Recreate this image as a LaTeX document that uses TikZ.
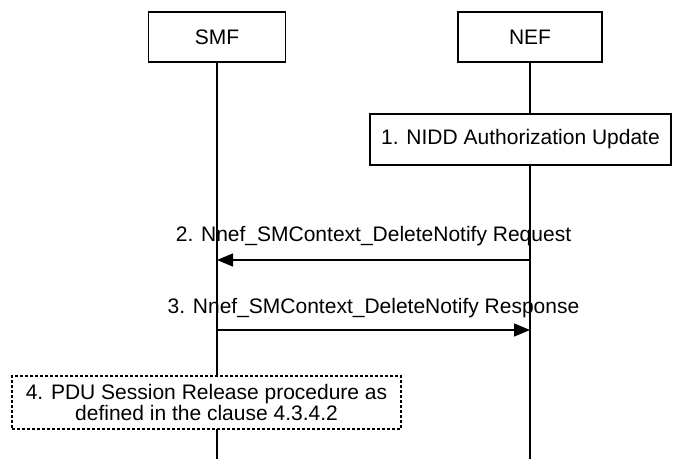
\documentclass[tikz,border=0pt]{standalone}
\usepackage{fontspec}
\setmainfont{Liberation Sans}
\usepackage{tikz}
\usetikzlibrary{arrows.meta,positioning}
\newcommand{\diagfont}{\fontsize{21}{21}\selectfont}
\tikzset{
  entitybox/.style={
    rectangle, draw=black, fill=white, line width=1.2pt,
    minimum width=#1, minimum height=50pt,
    font=\diagfont, inner sep=0pt
  },
  entitybox/.default=137pt,
  stepbox/.style={
    rectangle, draw=black, fill=white, line width=1.2pt,
    minimum width=301pt, minimum height=51pt,
    font=\diagfont, align=center, inner sep=0pt
  },
  procbox/.style={
    rectangle, draw=black, fill=white, line width=1.2pt,
    dash pattern=on 3pt off 2pt,
    minimum width=389pt, minimum height=53pt,
    font=\diagfont, align=center, inner sep=0pt
  },
  lifeline/.style={line width=1.2pt},
  msgarrow/.style={
    -{Triangle[length=16pt,width=13pt]}, line width=1.2pt
  },
  msglabel/.style={font=\diagfont, anchor=base, inner sep=0pt, yshift=19pt},
}

\begin{document}
\begin{tikzpicture}[x=1pt, y=-1pt]
  \useasboundingbox (0,0) rectangle (675,459);

  % Entities
  \node[entitybox=137pt] (smf) at (217,37) {SMF};
  \node[entitybox=144pt] (nef) at (530,37) {NEF};
  \coordinate (smf end) at (217,459);
  \coordinate (nef end) at (530,459);

  % Lifelines
  \draw[lifeline] (smf.south) -- (smf end);
  \draw[lifeline] (nef.south) -- (nef end);

  % Step 1
  \node[stepbox] (auth) at (520.5,139.5) {1. NIDD Authorization Update};

  % Messages
  \coordinate (req from) at (530,260);
  \coordinate (req to) at (217,260);
  \coordinate (rsp from) at (217,330);
  \coordinate (rsp to) at (530,330);
  \draw[msgarrow] (req from) -- node[msglabel] {2. Nnef\_SMContext\_DeleteNotify Request} (req to);
  \draw[msgarrow] (rsp from) -- node[msglabel, yshift=-2pt] {3. Nnef\_SMContext\_DeleteNotify Response} (rsp to);

  % Step 4
  \node[procbox] (release) at (206.5,402.5) {4. PDU Session Release procedure as\\defined in the clause 4.3.4.2};
\end{tikzpicture}
\end{document}
